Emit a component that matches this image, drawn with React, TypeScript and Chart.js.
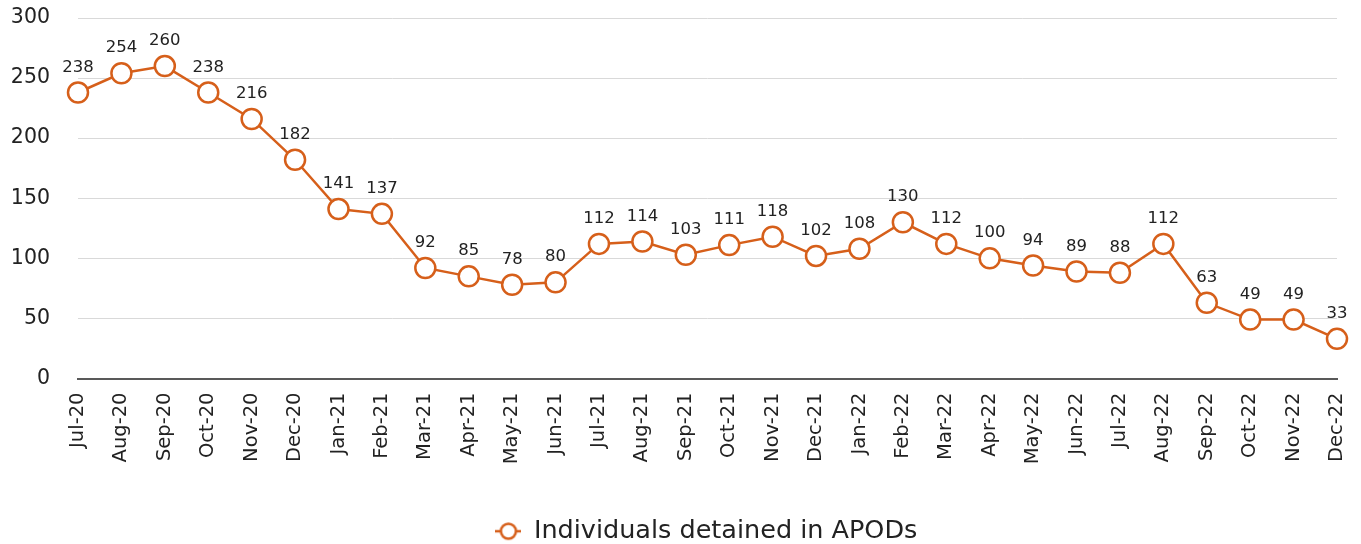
import React, { useEffect, useRef } from "react";
import { Chart, registerables } from "chart.js";

Chart.register(...registerables);

const categories = [
  "Jul-20", "Aug-20", "Sep-20", "Oct-20", "Nov-20", "Dec-20",
  "Jan-21", "Feb-21", "Mar-21", "Apr-21", "May-21", "Jun-21",
  "Jul-21", "Aug-21", "Sep-21", "Oct-21", "Nov-21", "Dec-21",
  "Jan-22", "Feb-22", "Mar-22", "Apr-22", "May-22", "Jun-22",
  "Jul-22", "Aug-22", "Sep-22", "Oct-22", "Nov-22", "Dec-22",
];
const detained = [
  238, 254, 260, 238, 216, 182, 141, 137, 92, 85, 78, 80,
  112, 114, 103, 111, 118, 102, 108, 130, 112, 100, 94, 89,
  88, 112, 63, 49, 49, 33,
];
const seriesName = "Individuals detained in APODs";
const yTicks = [0, 50, 100, 150, 200, 250, 300];

const ORANGE = "#D65F1A";
const FONT = "'DejaVu Sans', sans-serif";

const dataLabels = {
  id: "dataLabels",
  afterDatasetsDraw(chart: any) {
    const ctx = chart.ctx;
    const meta = chart.getDatasetMeta(0);
    ctx.save();
    ctx.font = `16.5px ${FONT}`;
    ctx.fillStyle = "#222222";
    ctx.textAlign = "center";
    ctx.textBaseline = "alphabetic";
    meta.data.forEach((pt: any, i: number) => {
      ctx.fillText(String(chart.data.datasets[0].data[i]), pt.x, pt.y - 21);
    });
    ctx.restore();
  },
};

const legendShift = {
  id: "legendShift",
  afterLayout(chart: any) {
    const lg = chart.legend;
    if (lg) {
      lg.top += 10;
      lg.bottom += 10;
      lg.left += 38;
      lg.right += 38;
    }
  },
};

function makeLegendIcon() {
  const c = document.createElement("canvas");
  c.width = 26;
  c.height = 22;
  const g = c.getContext("2d")!;
  g.strokeStyle = ORANGE;
  g.lineWidth = 2.5;
  g.beginPath();
  g.moveTo(0, 11);
  g.lineTo(26, 11);
  g.stroke();
  g.beginPath();
  g.arc(13, 11, 7.5, 0, Math.PI * 2);
  g.fillStyle = "#ffffff";
  g.fill();
  g.stroke();
  return c;
}

export default function App() {
  const ref = useRef<HTMLCanvasElement>(null);
  useEffect(() => {
    const icon = makeLegendIcon();
    const chart = new Chart(ref.current!, {
      type: "line",
      data: {
        labels: categories,
        datasets: [
          {
            label: seriesName,
            data: detained,
            borderColor: ORANGE,
            borderWidth: 2.5,
            backgroundColor: "#ffffff",
            pointRadius: 10,
            pointBorderWidth: 2.5,
            pointBackgroundColor: "#ffffff",
            pointBorderColor: ORANGE,
            tension: 0,
            clip: false as any,
          },
        ],
      },
      options: {
        animation: false,
        responsive: true,
        maintainAspectRatio: false,
        layout: { padding: { top: 18, right: 24, left: 0, bottom: 0 } },
        plugins: {
          tooltip: { enabled: false },
          legend: {
            position: "bottom",
            labels: {
              font: { family: FONT, size: 25.5 },
              color: "#222222",
              padding: 0,
              usePointStyle: true,
              generateLabels: () => [
                {
                  text: seriesName,
                  pointStyle: icon,
                  fillStyle: "#fff",
                  strokeStyle: ORANGE,
                  lineWidth: 0,
                  datasetIndex: 0,
                  fontColor: "#222222",
                },
              ],
            },
          },
        },
        scales: {
          x: {
            offset: false,
            grid: { display: false, drawTicks: false },
            border: { display: true, color: "#595959", width: 2 },
            ticks: {
              font: { family: FONT, size: 19.5 },
              color: "#222222",
              minRotation: 90,
              maxRotation: 90,
              autoSkip: false,
              padding: 14,
            },
            afterFit: (s: any) => {
              s.height = 130;
              s.paddingLeft = 0;
              s.paddingRight = 0;
            },
          },
          y: {
            min: 0,
            max: 300,
            afterBuildTicks: (s: any) => {
              s.ticks = yTicks.map((v) => ({ value: v }));
            },
            grid: { color: "#d9d9d9", lineWidth: 1, drawTicks: false },
            border: { display: false },
            ticks: {
              font: { family: FONT, size: 20.5 },
              color: "#222222",
              padding: 28,
            },
            afterFit: (s: any) => {
              s.width = 78;
              s.paddingTop = 0;
              s.paddingBottom = 0;
            },
          },
        },
      },
      plugins: [dataLabels, legendShift],
    });
    return () => chart.destroy();
  }, []);
  return (
    <div style={{ position: "fixed", left: 0, top: 0, width: 1361, height: 544, background: "#ffffff" }}>
      <canvas ref={ref} />
    </div>
  );
}
